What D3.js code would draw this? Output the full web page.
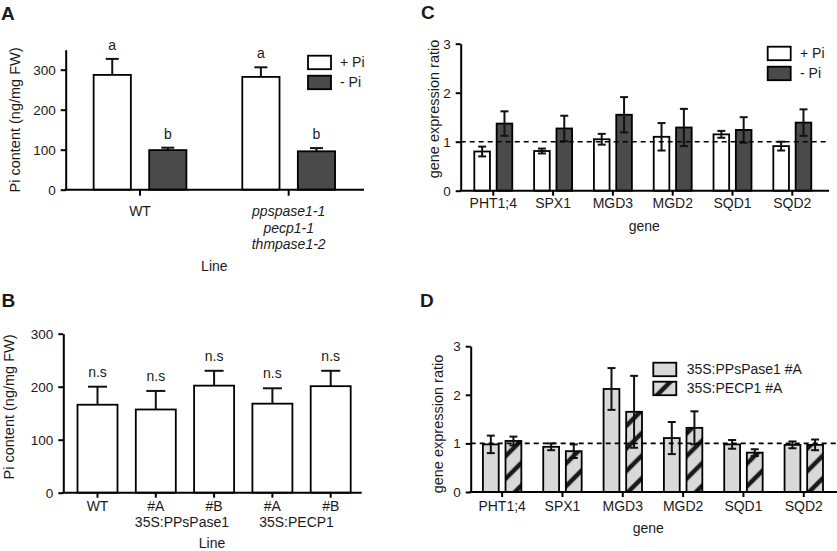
<!DOCTYPE html>
<html>
<head>
<meta charset="utf-8">
<script src="https://cdn.jsdelivr.net/npm/d3@7"></script>
<style>
body { margin: 0; background: #fff; }
</style>
</head>
<body>
<div id="chart-area"></div>
<script>

/* ---------- data ---------- */

// panel A : Pi content, WT vs triple mutant
const linesA = ["WT", "mutant"];
const mutantLabelA = ["ppspase1-1", "pecp1-1", "thmpase1-2"];
const seriesPi = ["+ Pi", "- Pi"];
const plusPiA = [287, 282];
const plusPiErrA = [40, 24];
const minusPiA = [99, 96];
const minusPiErrA = [6, 8];
const lettersA = [["a", "b"], ["a", "b"]];

// panel B : Pi content, overexpression lines
const lineLabelsB = ["WT", "#A", "#B", "#A", "#B"];
const constructLabelsB = ["35S:PPsPase1", "35S:PECP1"];
const valuesB = [166, 157, 202, 168, 201];
const errB = [34, 35, 28, 29, 29];

// panel C : gene expression ratio, +Pi / -Pi
const genes = ["PHT1;4", "SPX1", "MGD3", "MGD2", "SQD1", "SQD2"];
const plusPiC = [0.80, 0.81, 1.05, 1.10, 1.15, 0.91];
const plusPiErrC = [0.10, 0.05, 0.11, 0.28, 0.07, 0.09];
const minusPiC = [1.37, 1.27, 1.55, 1.29, 1.24, 1.39];
const minusPiErrC = [0.25, 0.26, 0.36, 0.38, 0.26, 0.27];

// panel D : gene expression ratio, overexpression lines
const seriesD = ["35S:PPsPase1 #A", "35S:PECP1 #A"];
const ppsD = [0.98, 0.93, 2.12, 1.11, 0.98, 0.97];
const ppsErrD = [0.18, 0.07, 0.43, 0.33, 0.09, 0.07];
const pecpD = [1.05, 0.84, 1.65, 1.32, 0.81, 0.97];
const pecpErrD = [0.09, 0.14, 0.74, 0.34, 0.07, 0.11];

/* ---------- graphical constants ---------- */
const FONT = "'Liberation Sans', Arial, Helvetica, sans-serif";
const TEXT = "#1a1a1a";
const DARK = "#4a4a4a";
const LIGHT = "#d9d9d9";
const AXIS_W = 2;
const BAR_W = 1.8;

const svg = d3.select("#chart-area")
    .append("svg")
    .attr("width", 837)
    .attr("height", 551)
    .attr("font-family", FONT);

// hatch for the PECP1 series
const hatch = svg.append("defs").append("pattern")
    .attr("id", "hatch")
    .attr("patternUnits", "userSpaceOnUse")
    .attr("width", 16)
    .attr("height", 16)
    .attr("patternTransform", "rotate(45)");
hatch.append("rect").attr("width", 16).attr("height", 16).attr("fill", LIGHT);
hatch.append("line")
    .attr("x1", 8).attr("x2", 8).attr("y1", -1).attr("y2", 17)
    .attr("stroke", "#1a1a1a").attr("stroke-width", 4.5);

/* ---------- helpers ---------- */

function styleAxis(ax, fs) {
    ax.attr("font-family", FONT).attr("font-size", fs);
    ax.select(".domain").attr("stroke", "#000").attr("stroke-width", AXIS_W);
    ax.selectAll(".tick line").attr("stroke", "#000").attr("stroke-width", AXIS_W);
    ax.selectAll(".tick text").attr("fill", TEXT);
}

function drawYAxis(scale, x, ticks) {
    const ax = svg.append("g")
        .attr("transform", "translate(" + x + ",0)")
        .call(d3.axisLeft(scale)
            .tickValues(ticks)
            .tickFormat(d3.format("d"))
            .tickSize(5)
            .tickPadding(5)
            .tickSizeOuter(0));
    styleAxis(ax, 13.5);
    return ax;
}

// x axis: ticks from the band scale, line drawn across the whole plot
function drawXAxis(scale, y, left, right, labels, tickLen, pad) {
    const ax = svg.append("g")
        .attr("transform", "translate(0," + y + ")")
        .call(d3.axisBottom(scale)
            .tickSize(tickLen)
            .tickPadding(pad)
            .tickFormat((d, i) => labels ? labels[i] : ""));
    styleAxis(ax, 14);
    ax.select(".domain").remove();
    ax.append("line")
        .attr("x1", left).attr("x2", right)
        .attr("stroke", "#000").attr("stroke-width", AXIS_W)
        .attr("stroke-linecap", "square");
    return ax;
}

function drawBars(items, y) {
    svg.append("g").selectAll("rect")
        .data(items)
        .join("rect")
        .attr("x", d => d.x)
        .attr("width", d => d.w)
        .attr("y", d => y(d.v))
        .attr("height", d => y(0) - y(d.v))
        .attr("fill", d => d.fill)
        .attr("stroke", "#000")
        .attr("stroke-width", BAR_W);
}

function drawErrors(items, y, cap, twoSided) {
    const g = svg.append("g")
        .attr("stroke", "#111")
        .attr("stroke-width", 2);
    g.selectAll(".stem")
        .data(items)
        .join("line")
        .attr("x1", d => d.x + d.w / 2)
        .attr("x2", d => d.x + d.w / 2)
        .attr("y1", d => y(twoSided ? d.v - d.e : d.v))
        .attr("y2", d => y(d.v + d.e));
    const caps = twoSided
        ? items.flatMap(d => [{ d, v: d.v + d.e }, { d, v: d.v - d.e }])
        : items.map(d => ({ d, v: d.v + d.e }));
    g.selectAll(".cap")
        .data(caps)
        .join("line")
        .attr("x1", c => c.d.x + c.d.w / 2 - cap / 2)
        .attr("x2", c => c.d.x + c.d.w / 2 + cap / 2)
        .attr("y1", c => y(c.v))
        .attr("y2", c => y(c.v));
}

function drawLegend(names, fills, x, y0, gap, textX) {
    const lg = svg.append("g");
    lg.selectAll("rect")
        .data(names)
        .join("rect")
        .attr("x", x)
        .attr("y", (d, i) => y0 + i * gap)
        .attr("width", 23)
        .attr("height", 13.5)
        .attr("fill", (d, i) => fills[i])
        .attr("stroke", "#000")
        .attr("stroke-width", BAR_W);
    lg.selectAll("text")
        .data(names)
        .join("text")
        .attr("x", textX)
        .attr("y", (d, i) => y0 + i * gap + 11.5)
        .attr("font-size", 14)
        .attr("fill", TEXT)
        .text(d => d);
}

function text(x, y, s, opts = {}) {
    return svg.append("text")
        .attr("x", x).attr("y", y)
        .attr("text-anchor", opts.anchor || "middle")
        .attr("font-size", opts.size || 14)
        .attr("font-weight", opts.weight || "normal")
        .attr("font-style", opts.style || "normal")
        .attr("fill", TEXT)
        .text(s);
}

function yTitle(x, cy, s) {
    svg.append("text")
        .attr("transform", "translate(" + x + "," + cy + ") rotate(-90)")
        .attr("text-anchor", "middle")
        .attr("font-size", 14.5)
        .attr("fill", TEXT)
        .text(s);
}

/* ---------- panel A ---------- */
{
    const left = 65.7, right = 363, base = 189.7;
    const y = d3.scaleLinear().domain([0, 350]).range([base, base - 140]);
    const x0 = d3.scaleBand().domain(d3.range(linesA.length)).range([left, right])
        .paddingInner(0.376).paddingOuter(0.188);
    const x1 = d3.scaleBand().domain(seriesPi).range([0, x0.bandwidth()]).paddingInner(0.33);

    const items = linesA.flatMap((l, i) => [
        { x: x0(i) + x1("+ Pi"), w: x1.bandwidth(), v: plusPiA[i], e: plusPiErrA[i], fill: "#fff", lab: lettersA[i][0] },
        { x: x0(i) + x1("- Pi"), w: x1.bandwidth(), v: minusPiA[i], e: minusPiErrA[i], fill: DARK, lab: lettersA[i][1] }
    ]);

    drawErrors(items, y, 13, false);
    drawBars(items, y);
    drawYAxis(y, left, [0, 100, 200, 300]);
    drawXAxis(x0, base, left, right, null, 6, 0);

    svg.append("g").selectAll("text")
        .data(items)
        .join("text")
        .attr("x", d => d.x + d.w / 2)
        .attr("y", d => y(d.v + d.e) - 9)
        .attr("text-anchor", "middle")
        .attr("font-size", 14)
        .attr("fill", TEXT)
        .text(d => d.lab);

    const cx = i => x0(i) + x0.bandwidth() / 2;
    text(cx(0), 216, linesA[0]);
    mutantLabelA.forEach((s, k) => text(cx(1), 216 + k * 16.5, s, { style: "italic" }));
    text((left + right) / 2, 270.5, "Line");
    yTitle(20, 120, "Pi content (ng/mg FW)");
    drawLegend(seriesPi, ["#fff", DARK], 308, 55.7, 20, 340);
    text(1, 19.5, "A", { anchor: "start", size: 19, weight: "bold" });
}

/* ---------- panel B ---------- */
{
    const left = 63.3, right = 360.7, base = 492.7;
    const y = d3.scaleLinear().domain([0, 300]).range([base, base - 159]);
    const x = d3.scaleBand().domain(d3.range(valuesB.length)).range([68.35, 359.85])
        .paddingInner(0.314).paddingOuter(0.157);

    const items = valuesB.map((v, i) => ({ x: x(i), w: x.bandwidth(), v, e: errB[i], fill: "#fff" }));

    drawErrors(items, y, 19, false);
    drawBars(items, y);
    drawYAxis(y, left, [0, 100, 200, 300]);
    drawXAxis(x, base, left, right, lineLabelsB, 5, 3.3);

    svg.append("g").selectAll("text")
        .data(items)
        .join("text")
        .attr("x", d => d.x + d.w / 2)
        .attr("y", d => y(d.v + d.e) - 10)
        .attr("text-anchor", "middle")
        .attr("font-size", 14)
        .attr("fill", TEXT)
        .text("n.s");

    const mid = (a, b) => (x(a) + x(b) + x.bandwidth()) / 2;
    text(mid(1, 2) - 3, 527, constructLabelsB[0]);
    text(mid(3, 4) - 5, 527, constructLabelsB[1]);
    text((left + right) / 2, 547.5, "Line");
    yTitle(14, 407, "Pi content (ng/mg FW)");
    text(1.5, 306.5, "B", { anchor: "start", size: 19, weight: "bold" });
}

/* ---------- panel C ---------- */
{
    const left = 460.7, right = 828, base = 190.7;
    const y = d3.scaleLinear().domain([0, 3]).range([base, base - 147]);
    const x0 = d3.scaleBand().domain(d3.range(genes.length)).range([463.4, 822.2])
        .paddingInner(0.365).paddingOuter(0.1825);
    const x1 = d3.scaleBand().domain(seriesPi).range([0, x0.bandwidth()]).paddingInner(0.3);

    const items = genes.flatMap((g, i) => [
        { x: x0(i) + x1("+ Pi"), w: x1.bandwidth(), v: plusPiC[i], e: plusPiErrC[i], fill: "#fff" },
        { x: x0(i) + x1("- Pi"), w: x1.bandwidth(), v: minusPiC[i], e: minusPiErrC[i], fill: DARK }
    ]);

    drawBars(items, y);
    drawErrors(items, y, 8, true);
    svg.append("line")
        .attr("x1", left).attr("x2", right)
        .attr("y1", y(1)).attr("y2", y(1))
        .attr("stroke", "#000").attr("stroke-width", 1.6)
        .attr("stroke-dasharray", "5,4");
    drawYAxis(y, left, [0, 1, 2, 3]);
    drawXAxis(x0, base, left, right, genes, 5, 2.5);

    text((left + right) / 2, 231, "gene");
    yTitle(439, 109, "gene expression ratio");
    drawLegend(seriesPi, ["#fff", DARK], 767.7, 46.7, 20, 800);
    text(421, 18.5, "C", { anchor: "start", size: 19, weight: "bold" });
}

/* ---------- panel D ---------- */
{
    const left = 470.7, right = 836, base = 492;
    const y = d3.scaleLinear().domain([0, 3]).range([base, base - 145.8]);
    const x0 = d3.scaleBand().domain(d3.range(genes.length)).range([472.05, 833.85])
        .paddingInner(0.363).paddingOuter(0.18);
    const x1 = d3.scaleBand().domain(seriesD).range([0, x0.bandwidth()]).paddingInner(0.3);

    const items = genes.flatMap((g, i) => [
        { x: x0(i) + x1(seriesD[0]), w: x1.bandwidth(), v: ppsD[i], e: ppsErrD[i], fill: LIGHT },
        { x: x0(i) + x1(seriesD[1]), w: x1.bandwidth(), v: pecpD[i], e: pecpErrD[i], fill: "url(#hatch)" }
    ]);

    drawBars(items, y);
    drawErrors(items, y, 8, true);
    svg.append("line")
        .attr("x1", left).attr("x2", right)
        .attr("y1", y(1)).attr("y2", y(1))
        .attr("stroke", "#000").attr("stroke-width", 1.6)
        .attr("stroke-dasharray", "5,4");
    drawYAxis(y, left, [0, 1, 2, 3]);
    drawXAxis(x0, base, left, right, genes, 5, 3.7);

    text((left + right) / 2 - 5, 533, "gene");
    yTitle(443, 424, "gene expression ratio");
    drawLegend(seriesD, [LIGHT, "url(#hatch)"], 653.3, 362.7, 19, 686.7);
    text(420, 306.5, "D", { anchor: "start", size: 19, weight: "bold" });
}

</script>
</body>
</html>
